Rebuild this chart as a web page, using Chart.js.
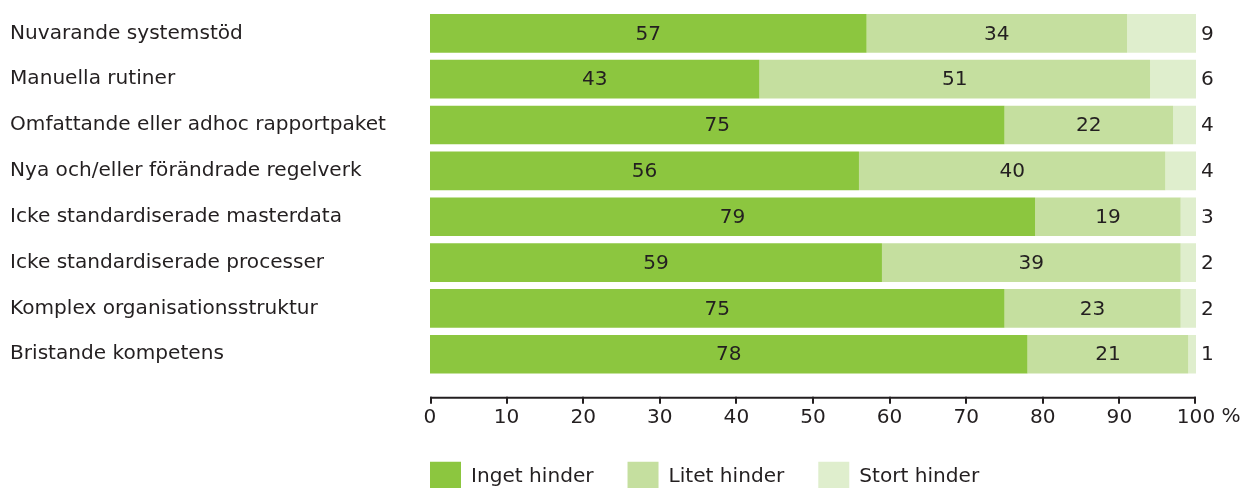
<!DOCTYPE html>
<html lang="sv">
<head>
<meta charset="utf-8">
<title>Hinder</title>
<style>
  html, body { margin: 0; padding: 0; background: #ffffff; }
  #wrap { position: relative; width: 1240px; height: 488px; }
</style>
<script src="https://cdn.jsdelivr.net/npm/chart.js@4.4.1/dist/chart.umd.min.js"></script>
</head>
<body>
<div id="wrap"><canvas id="chart" width="1240" height="488"></canvas></div>
<script>
// Categories (top to bottom)
const categories = [
  'Nuvarande systemstöd',
  'Manuella rutiner',
  'Omfattande eller adhoc rapportpaket',
  'Nya och/eller förändrade regelverk',
  'Icke standardiserade masterdata',
  'Icke standardiserade processer',
  'Komplex organisationsstruktur',
  'Bristande kompetens'
];

// Share of respondents, per cent
const ingetHinder = [57, 43, 75, 56, 79, 59, 75, 78];
const litetHinder = [34, 51, 22, 40, 19, 39, 23, 21];
const stortHinder = [9, 6, 4, 4, 3, 2, 2, 1];

const seriesNames = ['Inget hinder', 'Litet hinder', 'Stort hinder'];
const xTicks = [0, 10, 20, 30, 40, 50, 60, 70, 80, 90, 100];

const TEXT = '#231f20';
const FONT_FAMILY = '"DejaVu Sans", "Liberation Sans", sans-serif';
const FONT_SIZE = 20.1;
const COLORS = ['#8cc63f', '#c5df9f', '#dfeecd'];

// Axis line with tick marks, value labels and the legend placement
const decorations = {
  id: 'decorations',
  afterLayout(chart) {
    const lg = chart.legend;
    if (!lg) return;
    const pad = lg.options.labels.padding;
    lg.left = chart.chartArea.left - pad;
    lg.top = chart.chartArea.bottom + 84.5 - pad;
    lg.right = chart.width;
    lg.bottom = chart.height + 20;
    lg.width = lg.right - lg.left;
    lg.height = lg.bottom - lg.top;
  },
  afterDatasetsDraw(chart) {
    const ctx = chart.ctx;
    const xs = chart.scales.x;
    ctx.save();
    ctx.font = FONT_SIZE + 'px ' + FONT_FAMILY;
    ctx.fillStyle = TEXT;
    ctx.textBaseline = 'middle';
    chart.data.datasets.forEach((ds, di) => {
      const meta = chart.getDatasetMeta(di);
      meta.data.forEach((bar, i) => {
        const v = ds.data[i];
        const p = bar.getProps(['x', 'base', 'y'], true);
        if (di < 2) {
          ctx.textAlign = 'center';
          ctx.fillText(String(v), (p.x + p.base) / 2, p.y + 1);
        } else {
          ctx.textAlign = 'left';
          ctx.fillText(String(v), xs.getPixelForValue(100) + 5, p.y + 1);
        }
      });
    });
    ctx.restore();
  },
  afterDraw(chart) {
    const ctx = chart.ctx;
    const xs = chart.scales.x;
    const y0 = chart.chartArea.bottom + 20.5;
    ctx.save();
    ctx.strokeStyle = TEXT;
    ctx.lineWidth = 2;
    ctx.beginPath();
    ctx.moveTo(xs.getPixelForValue(0), y0);
    ctx.lineTo(xs.getPixelForValue(100), y0);
    ctx.stroke();
    xTicks.forEach(v => {
      const px = Math.round(xs.getPixelForValue(v)) + (v === 0 ? 1 : (v === 100 ? -1 : 0));
      ctx.beginPath();
      ctx.moveTo(px, y0 - 1);
      ctx.lineTo(px, y0 + 6);
      ctx.stroke();
    });
    // unit after the last tick label
    ctx.font = FONT_SIZE + 'px ' + FONT_FAMILY;
    ctx.fillStyle = TEXT;
    ctx.textAlign = 'left';
    ctx.textBaseline = 'middle';
    const x100 = xs.getPixelForValue(100);
    const half = ctx.measureText('100').width / 2;
    ctx.fillText('%', x100 + half + ctx.measureText(' ').width, y0 + 19.5);
    ctx.restore();
  }
};

new Chart(document.getElementById('chart'), {
  type: 'bar',
  data: {
    labels: categories,
    datasets: [
      { label: seriesNames[0], data: ingetHinder, backgroundColor: COLORS[0] },
      { label: seriesNames[1], data: litetHinder, backgroundColor: COLORS[1] },
      { label: seriesNames[2], data: stortHinder, backgroundColor: COLORS[2] }
    ]
  },
  options: {
    indexAxis: 'y',
    responsive: false,
    animation: false,
    datasets: {
      bar: { barPercentage: 1, categoryPercentage: 0.844, borderWidth: 0, clip: 0 }
    },
    layout: { padding: { left: 10, right: 44, top: 10.4, bottom: 39.8 } },
    scales: {
      x: {
        type: 'linear',
        stacked: true,
        min: 0,
        max: 100,
        grid: { display: false, drawTicks: false },
        border: { display: false },
        ticks: {
          color: TEXT,
          font: { family: FONT_FAMILY, size: FONT_SIZE },
          padding: 29,
          maxRotation: 0,
          autoSkip: false
        },
        afterBuildTicks: s => { s.ticks = xTicks.map(v => ({ value: v })); },
        afterFit: s => { s.height = 70; s.paddingLeft = 0; s.paddingRight = 0; }
      },
      y: {
        type: 'category',
        stacked: true,
        grid: { display: false, drawTicks: false },
        border: { display: false },
        ticks: {
          color: TEXT,
          font: { family: FONT_FAMILY, size: FONT_SIZE },
          crossAlign: 'far',
          padding: 0,
          autoSkip: false
        },
        afterFit: s => { s.width = 420; s.paddingTop = 0; s.paddingBottom = 0; }
      }
    },
    plugins: {
      legend: {
        position: 'bottom',
        align: 'start',
        maxHeight: 1,
        labels: {
          boxWidth: 31,
          boxHeight: 30,
          padding: 34,
          color: TEXT,
          font: { family: FONT_FAMILY, size: FONT_SIZE }
        }
      },
      tooltip: { enabled: false }
    }
  },
  plugins: [decorations]
});
</script>
</body>
</html>
